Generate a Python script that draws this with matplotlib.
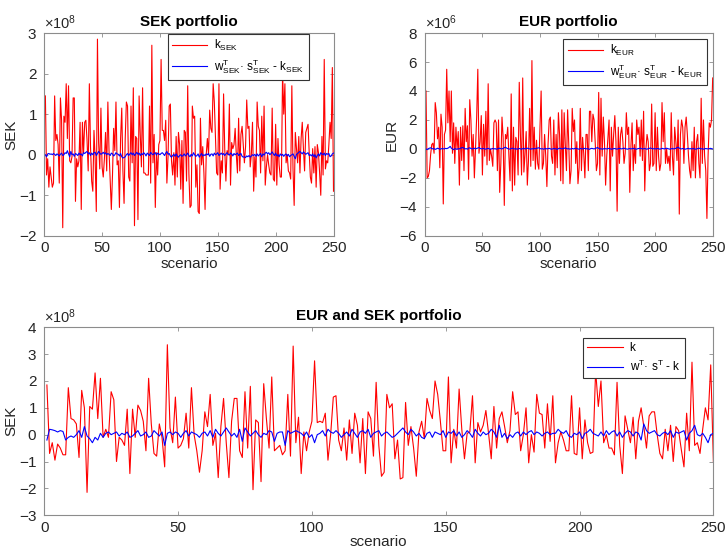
import matplotlib
matplotlib.use("Agg")
import matplotlib.pyplot as plt
import numpy as np
from matplotlib.ticker import ScalarFormatter

plt.rcParams['font.family'] = ['Liberation Sans', 'DejaVu Sans']
plt.rcParams['mathtext.fontset'] = 'custom'
plt.rcParams['mathtext.rm'] = 'Liberation Sans'
plt.rcParams['mathtext.it'] = 'Liberation Sans:italic'
plt.rcParams['mathtext.bf'] = 'Liberation Sans:bold'
plt.rcParams['axes.unicode_minus'] = False

# k for the whole portfolio, in units of 1e8 SEK
k_tot = [
    1.85, -0.7, -0.3, -0.95, -0.35, -0.5, -0.75, -0.75, 1.75, 0.6,
    0.55, 0.4, -0.85, 1.65, 1.0, -2.15, 1.05, 0.95, 2.3, 0.6,
    2.1, -0.1, 0.2, -0.1, 1.6, 1.3, -1.0, -0.1, -0.2, -0.4,
    0.95, -1.45, 0.95, -0.1, 1.1, 0.9, 0.5, -0.6, 2.1, 0.4,
    -0.7, -0.8, 0.4, -0.1, -1.2, 3.35, 0.25, -0.3, 1.4, -0.5,
    -0.4, -0.15, 0.8, -0.5, 1.75, 0.0, -0.6, -1.4, -0.6, 0.85,
    0.3, 1.5, -0.4, 0.05, -1.6, 0.3, 1.35, -0.3, -1.6, 0.5,
    1.35, 1.35, -0.6, -0.85, 1.6, -0.5, 1.8, -2.05, 0.55, 0.45,
    -1.75, 1.9, 0.6, -0.5, 2.15, -0.6, -0.5, -0.4, -0.75, -0.6,
    1.5, -0.8, 3.3, -0.3, 0.65, -1.45, 0.1, -0.6, 0.1, 0.5,
    2.75, 0.45, 0.5, 0.45, 0.8, -0.95, 0.0, 1.4, 1.45, -0.2,
    -0.6, 0.25, -0.95, 0.55, -0.7, 0.8, 0.35, -1.05, 0.6, -1.45,
    0.85, 0.6, -0.8, 1.95, -0.4, -1.55, -1.4, 1.5, 1.0, 1.15,
    -0.9, -0.2, -1.65, -1.6, 1.2, -0.4, 0.3, -0.5, -1.55, 0.1,
    0.5, -0.15, 1.35, 0.9, 0.6, 2.0, 1.5, 0.5, -0.6, -0.6,
    2.15, -1.05, 0.2, -0.5, 1.7, 0.2, -0.9, 0.05, 0.1, 1.45,
    -1.05, 0.45, 0.1, 0.35, 0.9, 0.05, -0.9, 1.05, -0.5, 0.6,
    0.85, 0.3, -0.3, 0.15, 1.6, 0.75, 0.85, -0.6, 0.0, 1.0,
    -1.05, 0.0, -0.65, 1.5, 0.8, 0.75, -0.5, 1.15, -0.25, 1.45,
    -1.05, -0.3, 0.1, -0.2, -0.6, -0.6, 1.45, -0.7, -0.75, 1.0,
    -0.9, 0.55, -0.3, -0.7, -0.65, 2.4, 1.05, 2.0, -0.3, 0.0,
    -0.5, -0.5, -0.75, 1.95, -0.4, -1.45, 0.7, 0.2, -0.3, 0.65,
    -0.9, 0.5, 1.0, 0.3, -0.5, 0.7, 0.85, 0.85, 0.0, -0.7,
    -0.9, 0.2, -0.6, 0.35, -1.0, 0.3, 0.15, -0.55, -1.2, 0.8,
    -0.6, 2.7, -0.4, -0.3, -0.7, 0.2, 1.0, 0.55, 2.6, -1.0,
]

# residual for the whole portfolio, 1e8 SEK
res_tot = [
    -0.2, 0.2, 0.18, 0.15, 0.1, 0.15, 0.12, -0.2, -0.1, -0.05,
    -0.1, 0.0, 0.15, -0.1, 0.3, -0.05, -0.15, -0.3, -0.1, -0.2,
    0.05, -0.1, 0.05, 0.1, 0.0, 0.05, 0.1, -0.05, 0.05, 0.0,
    0.1, -0.1, -0.05, 0.05, 0.15, -0.05, 0.0, 0.1, -0.1, -0.05,
    0.15, 0.05, -0.05, 0.1, -0.4, 0.05, 0.1, 0.0, 0.1, 0.05,
    -0.1, 0.05, 0.15, -0.05, 0.1, 0.05, 0.0, -0.1, 0.05, 0.1,
    -0.05, 0.15, -0.1, 0.2, 0.05, -0.05, 0.1, 0.25, 0.1, -0.05,
    0.05, -0.1, 0.2, -0.25, 0.25, 0.1, -0.05, 0.05, 0.15, 0.0,
    -0.1, 0.05, 0.0, 0.15, 0.1, -0.25, 0.05, 0.1, 0.1, -0.4,
    0.15, 0.05, 0.1, 0.15, 0.1, 0.05, -0.05, 0.1, -0.1, 0.0,
    -0.3, 0.0, 0.05, 0.15, -0.05, 0.2, 0.1, 0.05, 0.15, 0.05,
    -0.1, 0.0, 0.1, -0.05, 0.2, 0.05, -0.1, 0.1, 0.15, 0.05,
    0.2, -0.1, 0.05, 0.1, 0.15, -0.05, 0.05, 0.1, 0.0, -0.1,
    -0.05, 0.05, 0.15, 0.25, 0.1, 0.0, 0.2, 0.1, -0.05, 0.05,
    -0.1, -0.15, 0.05, 0.1, -0.1, 0.1, 0.05, 0.0, 0.15, -0.1,
    0.1, 0.05, 0.15, -0.05, 0.1, -0.1, 0.0, 0.15, 0.05, -0.1,
    0.2, 0.05, -0.05, 0.1, 0.0, 0.05, 0.2, 0.1, -0.1, 0.35,
    -0.1, 0.05, -0.15, 0.0, -0.1, 0.05, 0.1, -0.05, 0.1, 0.0,
    0.1, 0.15, 0.0, 0.1, 0.05, -0.05, 0.05, 0.1, 0.0, 0.05,
    0.05, 0.2, 0.1, 0.05, 0.15, -0.05, -0.1, 0.05, 0.0, 0.1,
    -0.15, 0.05, 0.1, 0.2, 0.05, 0.0, -0.05, 0.1, -0.05, 0.15,
    0.0, 0.1, 0.15, -0.05, 0.1, -0.1, 0.05, 0.15, 0.1, -0.05,
    0.1, 0.05, -0.2, 0.4, 0.15, 0.05, 0.1, 0.15, 0.0, -0.05,
    0.05, 0.1, 0.0, 0.15, -0.1, 0.1, 0.05, 0.1, 0.15, -0.2,
    0.05, 0.15, 0.35, 0.0, -0.05, 0.05, -0.1, -0.3, 0.0, 0.05,
]

# k for the EUR portfolio, 1e6 EUR
k_eur = [
    4.0, -2.0, -1.9, -1.5, -0.4, 0.3, 0.4, -0.3, 3.2, 2.5,
    0.7, 1.5, -1.3, 2.4, 1.5, -3.8, 1.0, 1.3, 5.5, 1.8,
    4.0, 0.5, 4.0, -0.3, 1.8, -1.0, 1.5, 0.0, 1.2, -2.5,
    1.5, -0.8, 1.6, -1.5, 2.8, 0.5, 1.6, -2.1, 3.4, 2.0,
    -0.5, 1.0, -2.0, 0.0, 2.2, 5.5, -0.3, 0.5, 2.3, -1.8,
    1.7, -0.5, 2.6, -1.1, 4.5, -0.8, 0.0, -0.5, -1.2, 1.8,
    2.0, 1.8, -1.5, 2.0, -3.0, -1.0, 2.2, 0.8, -3.9, 1.0,
    0.7, 1.5, -0.5, -2.2, 3.8, -2.9, 1.5, -2.5, 0.8, 0.5,
    -1.8, 4.6, 1.0, -1.8, 4.9, -1.6, -0.4, 1.2, -2.5, -0.8,
    2.8, -1.2, 6.1, -0.8, 1.5, -1.4, 0.6, -1.0, -1.4, 1.5,
    4.0, -1.4, -1.0, 1.0, -0.5, -2.6, 0.3, 2.0, 2.2, -0.5,
    -1.0, 2.0, -1.8, 1.0, -1.3, 2.5, 1.0, -2.2, 2.7, -2.4,
    2.5, 0.3, -1.5, 2.7, 0.3, -2.4, -1.5, 2.8, 1.2, 2.0,
    -1.0, 0.5, -2.4, -1.3, 2.8, -1.5, 0.8, -0.3, -2.0, 1.0,
    1.0, -1.5, 2.6, 2.6, 0.5, 2.4, 2.0, 0.4, -1.5, -1.0,
    3.9, -1.8, 3.5, -0.5, 2.2, 0.5, -2.5, -0.5, 0.8, 2.0,
    -2.9, 1.5, -0.5, 1.0, 2.3, 0.5, -4.3, 1.5, -1.0, 1.0,
    1.5, 0.5, -1.0, -0.3, 2.5, 1.0, 1.5, -3.0, 0.2, 1.8,
    -1.5, 0.3, -1.0, 2.0, 1.0, 1.5, -0.5, 2.0, -0.8, 2.6,
    -2.9, 0.0, 1.0, 0.5, -1.5, -1.0, 3.1, -1.2, -1.0, 2.5,
    -1.5, 1.5, -0.5, -1.5, -1.0, 3.2, 0.5, 2.5, -1.0, 0.0,
    -1.0, -0.5, -1.5, 2.5, -0.5, -1.8, 1.5, 0.5, -0.8, 2.0,
    -4.5, 1.0, 2.0, 1.5, -1.0, 1.5, 2.2, 1.0, -0.5, -1.5,
    -2.0, 0.5, -1.5, 1.5, -2.0, 0.5, 1.0, -1.0, -2.0, 3.5,
    -1.0, 2.0, -0.5, -1.5, -4.8, -0.5, 1.8, 1.5, 2.0, 4.9,
]

# residual for the EUR portfolio, 1e6 EUR
res_eur = [
    0.0, -0.05, 0.02, 0.05, 0.08, 0.03, 0.0, 0.02, -0.03, 0.0,
    0.05, 0.02, -0.02, 0.0, 0.03, 0.01, 0.0, 0.04, 0.02, 0.05,
    0.1, 0.18, 0.05, 0.0, -0.05, 0.02, 0.0, -0.03, 0.02, 0.0,
    0.05, 0.08, 0.1, 0.05, 0.0, 0.02, -0.02, 0.05, 0.08, 0.03,
    0.0, 0.02, 0.05, 0.0, 0.03, 0.06, 0.1, 0.04, 0.0, 0.02,
    0.03, 0.0, -0.02, 0.02, 0.04, 0.0, -0.03, 0.01, 0.03, 0.0,
    0.02, -0.02, 0.0, 0.03, 0.05, 0.02, 0.0, 0.04, 0.08, 0.12,
    0.06, 0.02, 0.0, -0.02, 0.03, 0.05, 0.01, 0.0, 0.02, -0.02,
    0.0, 0.03, 0.01, -0.02, 0.02, 0.04, 0.0, 0.02, 0.05, 0.03,
    0.0, -0.02, 0.02, 0.0, 0.03, 0.01, 0.04, 0.06, 0.08, 0.03,
    0.0, 0.02, -0.02, 0.01, 0.03, 0.0, 0.02, 0.04, 0.01, -0.02,
    0.0, 0.03, 0.02, 0.0, -0.03, 0.02, 0.05, 0.03, 0.0, 0.02,
    0.04, 0.07, 0.03, 0.0, 0.02, -0.02, 0.01, 0.03, 0.0, 0.02,
    0.05, 0.02, 0.0, -0.02, 0.03, 0.01, 0.0, 0.02, 0.04, 0.0,
    0.02, 0.0, -0.03, 0.02, 0.04, 0.02, 0.0, 0.03, 0.06, 0.1,
    0.04, 0.0, 0.02, -0.02, 0.0, 0.03, 0.01, 0.0, 0.02, 0.04,
    0.01, -0.02, 0.0, 0.02, 0.03, 0.0, -0.02, 0.02, 0.04, 0.02,
    0.0, 0.03, 0.05, 0.02, 0.0, -0.02, 0.01, 0.03, 0.0, 0.02,
    0.04, 0.01, 0.0, -0.02, 0.02, 0.03, 0.05, 0.02, 0.0, 0.01,
    0.03, 0.0, -0.02, 0.02, 0.04, 0.06, 0.03, 0.0, 0.02, 0.01,
    0.0, 0.03, 0.02, -0.02, 0.0, 0.04, 0.02, 0.0, 0.03, 0.05,
    0.02, 0.0, -0.02, 0.01, 0.03, 0.0, 0.02, 0.04, 0.08, 0.12,
    0.05, 0.02, 0.0, 0.03, 0.01, -0.02, 0.0, 0.02, 0.04, 0.0,
    0.02, 0.0, 0.03, 0.01, -0.02, 0.0, 0.02, 0.05, 0.03, 0.0,
    0.02, -0.02, 0.0, 0.03, 0.01, 0.0, 0.02, 0.04, 0.02, 0.0,
]

# k for the SEK portfolio, 1e8 SEK
k_sek = [
    1.45, -0.5, -0.1, -0.8, -0.3, -0.55, -0.8, -0.7, 1.45, 0.35,
    0.5, 0.25, -0.7, 1.4, 0.85, -1.8, 0.95, 0.8, 1.75, 0.4,
    1.7, -0.15, -0.2, -0.05, 1.4, 1.4, -1.15, -0.1, -0.3, -0.15,
    0.8, -1.35, 0.8, 0.05, 0.8, 0.85, 0.35, -0.4, 1.75, 0.2,
    -0.65, -0.9, 0.6, -0.1, -1.4, 2.85, 0.3, -0.35, 1.15, -0.3,
    -0.55, -0.1, 0.55, -0.4, 1.3, 0.1, -0.6, -1.35, -0.5, 0.65,
    0.1, 1.3, -0.25, -0.15, -1.3, 0.4, 1.15, -0.4, -1.2, 0.4,
    1.3, 1.2, -0.55, -0.65, 1.2, -0.2, 1.65, -1.75, 0.45, 0.4,
    -1.6, 1.45, 0.5, -0.3, 1.65, -0.45, -0.45, -0.5, -0.5, -0.5,
    1.2, -0.7, 2.7, -0.2, 0.5, -1.3, 0.05, -0.5, 0.25, 0.35,
    2.35, 0.6, 0.6, 0.35, 0.85, -0.7, -0.05, 1.2, 1.25, -0.15,
    -0.5, 0.05, -0.75, 0.45, -0.55, 0.55, 0.25, -0.85, 0.35, -1.2,
    0.6, 0.55, -0.65, 1.7, -0.45, -1.3, -1.25, 1.2, 0.9, 0.95,
    -0.8, -0.25, -1.4, -1.45, 0.9, -0.25, 0.2, -0.45, -1.35, 0.0,
    0.4, 0.0, 1.1, 0.65, 0.55, 1.75, 1.3, 0.45, -0.45, -0.5,
    1.75, -0.85, -0.15, -0.45, 1.5, 0.15, -0.65, 0.1, 0.0, 1.25,
    -0.75, 0.3, 0.15, 0.25, 0.65, 0.0, -0.45, 0.9, -0.4, 0.5,
    0.7, 0.25, -0.2, 0.2, 1.35, 0.65, 0.7, -0.3, 0.0, 0.8,
    -0.9, -0.05, -0.55, 1.3, 0.7, 0.6, -0.45, 0.95, -0.15, 1.2,
    -0.75, -0.3, 0.0, -0.25, -0.45, -0.5, 1.15, -0.6, -0.65, 0.75,
    -0.75, 0.4, -0.25, -0.55, -0.55, 2.05, 1.0, 1.75, -0.2, 0.0,
    -0.4, -0.45, -0.6, 1.7, -0.35, -1.25, 0.55, 0.15, -0.2, 0.45,
    -0.45, 0.4, 0.8, 0.15, -0.4, 0.55, 0.65, 0.75, 0.05, -0.55,
    -0.7, 0.15, -0.45, 0.2, -0.8, 0.25, 0.05, -0.45, -1.0, 0.45,
    -0.5, 2.35, -0.35, -0.15, -0.2, 0.25, 0.8, 0.4, 2.15, -0.9,
]

# residual for the SEK portfolio, 1e8 SEK
res_sek = [
    0.0, -0.05, 0.02, 0.03, 0.01, 0.02, 0.0, 0.03, 0.01, -0.02,
    0.02, 0.0, -0.03, 0.01, 0.04, -0.02, 0.0, 0.05, 0.03, 0.1,
    0.02, -0.05, 0.08, 0.0, 0.02, -0.04, 0.03, 0.01, -0.02, 0.04,
    0.0, 0.02, -0.03, 0.05, 0.03, 0.06, 0.08, 0.02, 0.05, -0.02,
    0.04, 0.0, 0.05, 0.06, -0.02, 0.03, 0.08, 0.04, 0.01, 0.03,
    0.06, 0.02, 0.05, 0.0, 0.03, 0.01, -0.02, 0.04, 0.02, -0.03,
    0.0, 0.05, 0.02, 0.01, -0.03, 0.03, -0.05, -0.08, -0.07, -0.05,
    0.0, 0.03, -0.02, 0.02, 0.05, 0.0, 0.04, -0.02, 0.02, 0.06,
    0.01, 0.04, -0.02, 0.03, 0.0, 0.05, 0.02, -0.03, 0.04, 0.01,
    -0.02, 0.06, 0.02, 0.0, 0.03, 0.05, -0.01, 0.04, 0.02, 0.0,
    0.03, 0.05, 0.02, -0.02, 0.04, 0.08, 0.01, 0.03, -0.03, -0.06,
    -0.02, 0.01, -0.04, 0.02, -0.03, -0.06, -0.02, 0.0, -0.04, -0.02,
    0.02, -0.03, 0.0, 0.04, -0.02, -0.05, 0.01, -0.03, 0.05, 0.0,
    -0.04, -0.02, 0.02, -0.06, -0.01, 0.03, -0.03, 0.0, -0.02, 0.02,
    0.0, 0.03, -0.04, 0.01, 0.02, -0.03, 0.04, 0.0, 0.02, 0.05,
    -0.02, 0.01, 0.04, 0.0, 0.03, -0.02, 0.02, 0.05, 0.01, -0.01,
    0.04, 0.02, -0.03, 0.03, 0.0, 0.02, 0.04, -0.02, 0.01, 0.03,
    -0.04, -0.06, -0.05, -0.07, -0.03, -0.05, -0.02, -0.06, -0.03, 0.0,
    -0.02, 0.01, -0.04, 0.02, -0.03, 0.0, 0.03, -0.05, 0.02, -0.01,
    0.04, 0.06, 0.02, 0.05, 0.0, 0.03, 0.07, 0.02, -0.02, 0.04,
    -0.03, 0.0, -0.05, 0.02, -0.02, 0.01, -0.04, 0.0, 0.02, -0.03,
    0.01, -0.05, -0.02, 0.0, 0.02, -0.04, -0.1, 0.01, 0.03, 0.06,
    0.08, 0.05, 0.02, 0.07, 0.04, 0.01, 0.03, 0.05, -0.02, 0.0,
    -0.03, 0.02, -0.05, 0.0, -0.08, -0.02, 0.02, -0.03, 0.05, 0.02,
    0.0, 0.04, -0.02, 0.03, 0.01, 0.03, -0.05, -0.03, 0.02, 0.04,
]

SPINE = '#8c8c8c'
TXT = '#262626'


def style_axes(ax, ylim, yticks, title, ylabel):
    """MATLAB-like look: boxed axes, inward ticks, x10^n offset"""
    ax.set_xlim(0, 250)
    ax.set_xticks(np.arange(0, 251, 50))
    ax.set_ylim(*ylim)
    ax.set_yticks(yticks)
    fmt = ScalarFormatter(useMathText=True)
    fmt.set_powerlimits((0, 0))
    ax.yaxis.set_major_formatter(fmt)
    ax.yaxis.get_offset_text().set_color('#555555')
    ax.yaxis.get_offset_text().set_fontsize(10.5)
    ax.tick_params(direction='in', top=True, right=True, length=3,
                   width=0.6, colors=SPINE, labelcolor=TXT, labelsize=11)
    ax.tick_params(axis='y', pad=5)
    ax.tick_params(axis='x', pad=4)
    for s in ax.spines.values():
        s.set_color(SPINE)
        s.set_linewidth(0.8)
    ax.set_title(title, fontsize=11, fontweight='bold', color='black', pad=5)
    ax.set_xlabel('scenario', fontsize=11, color=TXT, labelpad=1)
    ax.set_ylabel(ylabel, fontsize=11, color=TXT, labelpad=0)


fig = plt.figure(figsize=(7.25, 5.51), dpi=100)
ax1 = fig.add_axes([0.061, 0.572, 0.399, 0.368])
ax2 = fig.add_axes([0.586, 0.572, 0.397, 0.368])
ax3 = fig.add_axes([0.061, 0.065, 0.923, 0.341])

x = np.arange(1, len(k_tot) + 1)

ax1.plot(x, np.array(k_sek) * 1e8, color='r', lw=0.8,
         label=r'k$_{\rm SEK}$')
ax1.plot(x, np.array(res_sek) * 1e8, color='b', lw=0.8,
         label=r'w$^{\rm T}_{\rm SEK}$· s$^{\rm T}_{\rm SEK}$ - k$_{\rm SEK}$')
style_axes(ax1, (-2e8, 3e8), np.arange(-2, 4) * 1e8, 'SEK portfolio', 'SEK')

ax2.plot(x, np.array(k_eur) * 1e6, color='r', lw=0.8,
         label=r'k$_{\rm EUR}$')
ax2.plot(x, np.array(res_eur) * 1e6, color='b', lw=0.8,
         label=r'w$^{\rm T}_{\rm EUR}$· s$^{\rm T}_{\rm EUR}$ - k$_{\rm EUR}$')
style_axes(ax2, (-6e6, 8e6), np.arange(-6, 9, 2) * 1e6, 'EUR portfolio', 'EUR')

ax3.plot(x, np.array(k_tot) * 1e8, color='r', lw=0.8, label='k')
ax3.plot(x, np.array(res_tot) * 1e8, color='b', lw=0.8,
         label=r'w$^{\rm T}$· s$^{\rm T}$ - k')
style_axes(ax3, (-3e8, 4e8), np.arange(-3, 5) * 1e8, 'EUR and SEK portfolio', 'SEK')
ax3.xaxis.labelpad = 0

legend_pos = [(ax1, (0.934, 1.025)), (ax2, (1.0, 1.0)), (ax3, (0.966, 0.973))]
for ax, anchor in legend_pos:
    leg = ax.legend(loc='upper right', bbox_to_anchor=anchor, fontsize=8.5,
                    fancybox=False, handlelength=3.0, borderpad=0.35,
                    labelspacing=0.35, handletextpad=0.6, framealpha=1)
    leg.get_frame().set_edgecolor('#333333')
    leg.get_frame().set_linewidth(0.8)

fig.savefig('out.png', dpi=100)
